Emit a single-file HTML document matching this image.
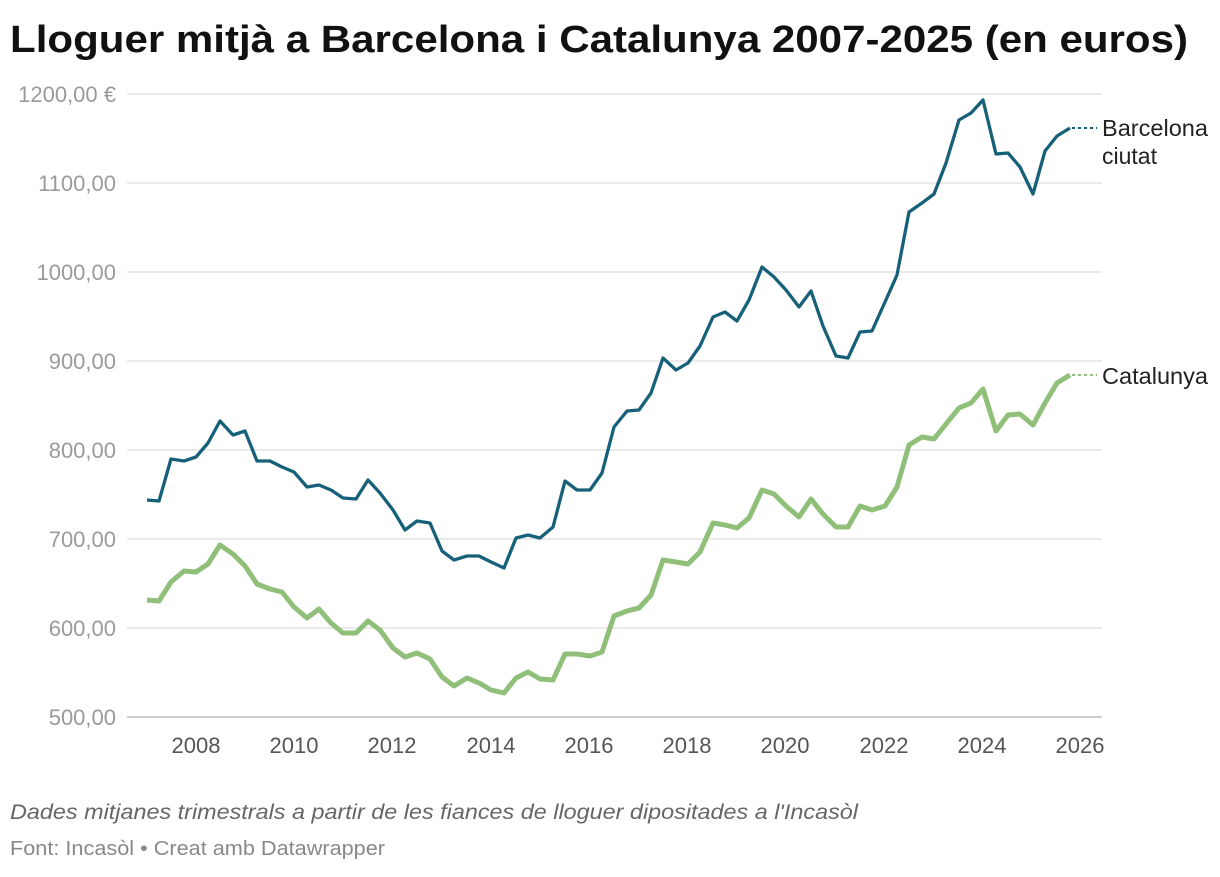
<!DOCTYPE html>
<html><head><meta charset="utf-8"><style>
body{margin:0;background:#fff;width:1220px;height:872px;overflow:hidden;font-family:"Liberation Sans",Arial,sans-serif}
</style></head><body>
<svg width="1220" height="872" xmlns="http://www.w3.org/2000/svg" font-family="Liberation Sans, Arial, sans-serif">
<text x="10" y="52" font-size="38" font-weight="bold" fill="#111" textLength="1178" lengthAdjust="spacingAndGlyphs">Lloguer mitjà a Barcelona i Catalunya 2007-2025 (en euros)</text>
<g stroke="#e3e3e3" stroke-width="1.5">
<line x1="127" x2="1102" y1="94" y2="94"/><line x1="127" x2="1102" y1="183" y2="183"/>
<line x1="127" x2="1102" y1="272" y2="272"/><line x1="127" x2="1102" y1="361" y2="361"/>
<line x1="127" x2="1102" y1="450" y2="450"/><line x1="127" x2="1102" y1="539" y2="539"/>
<line x1="127" x2="1102" y1="628" y2="628"/>
</g>
<line x1="127" x2="1102" y1="717" y2="717" stroke="#bbb" stroke-width="1.5"/>
<g font-size="22" fill="#9a9a9a" text-anchor="end">
<text x="116" y="102">1200,00 €</text>
<text x="116" y="191">1100,00</text><text x="116" y="280">1000,00</text>
<text x="116" y="369">900,00</text><text x="116" y="458">800,00</text>
<text x="116" y="547">700,00</text><text x="116" y="636">600,00</text>
<text x="116" y="725">500,00</text>
</g>
<g font-size="22" fill="#555" text-anchor="middle">
<text x="196" y="753">2008</text><text x="294" y="753">2010</text><text x="392" y="753">2012</text>
<text x="491" y="753">2014</text><text x="589" y="753">2016</text><text x="687" y="753">2018</text>
<text x="785" y="753">2020</text><text x="884" y="753">2022</text><text x="982" y="753">2024</text>
<text x="1080" y="753">2026</text>
</g>
<polyline fill="none" stroke="#8fbf78" stroke-width="5" stroke-linejoin="round" points="147,600 159,601 171,582 184,571 196,572 208,564 220,545 233,554 245,566 257,584 270,589 282,592 294,607 307,618 319,609 331,623 343,633 356,633 368,621 380,630 393,648 405,657 417,653 430,659 442,677 454,686 467,678 479,683 491,690 504,693 516,678 528,672 540,679 553,680 565,654 577,654 590,656 602,652 614,616 627,611 639,608 651,595 663,560 676,562 688,564 700,552 713,523 725,525 737,528 749,518 762,490 774,494 786,506 799,517 811,499 823,514 836,527 848,527 860,506 872,510 885,506 897,487 909,445 922,437 934,439 946,424 959,408 971,403 983,389 996,431 1008,415 1020,414 1033,425 1045,403 1057,383 1070,375"/>
<polyline fill="none" stroke="#17607a" stroke-width="3.3" stroke-linejoin="round" points="147,500 159,501 171,459 184,461 196,457 208,443 220,421 233,435 245,431 257,461 270,461 282,467 294,472 307,487 319,485 331,490 343,498 356,499 368,480 380,493 393,510 405,530 417,521 430,523 442,551 454,560 467,556 479,556 491,562 504,568 516,538 528,535 540,538 553,527 565,481 577,490 590,490 602,473 614,427 627,411 639,410 651,393 663,358 676,370 688,363 700,346 713,317 725,312 737,321 749,300 762,267 774,277 786,290 799,307 811,291 823,326 836,356 848,358 860,332 872,331 885,302 897,275 909,212 922,203 934,194 946,163 959,120 971,113 983,100 996,154 1008,153 1020,167 1033,194 1045,151 1057,136 1070,128"/>
<line x1="1072" x2="1097" y1="128" y2="128" stroke="#17607a" stroke-width="2" stroke-dasharray="3,3"/>
<line x1="1072" x2="1097" y1="375" y2="375" stroke="#8fbf78" stroke-width="2" stroke-dasharray="3,3"/>
<g font-size="23" fill="#222">
<text x="1102" y="136" textLength="106" lengthAdjust="spacingAndGlyphs">Barcelona</text><text x="1102" y="164">ciutat</text>
<text x="1102" y="384" textLength="106" lengthAdjust="spacingAndGlyphs">Catalunya</text>
</g>
<text x="10" y="819" font-size="21" font-style="italic" fill="#666" textLength="848" lengthAdjust="spacingAndGlyphs">Dades mitjanes trimestrals a partir de les fiances de lloguer dipositades a l'Incasòl</text>
<text x="10" y="855" font-size="20" fill="#888" textLength="375" lengthAdjust="spacingAndGlyphs">Font: Incasòl • Creat amb Datawrapper</text>
</svg>
</body></html>
